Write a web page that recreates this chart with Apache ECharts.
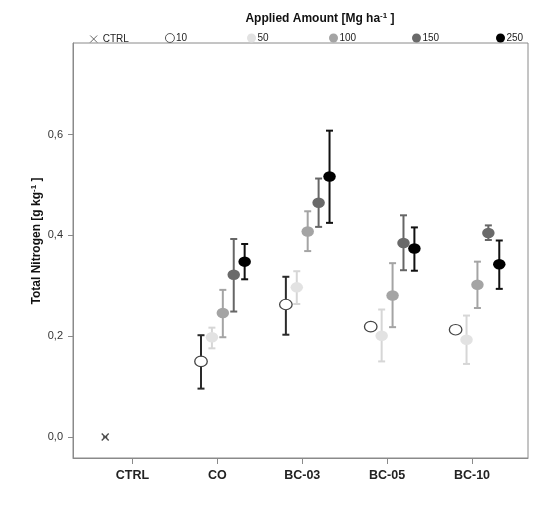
<!DOCTYPE html>
<html>
<head>
<meta charset="utf-8">
<script src="https://cdn.jsdelivr.net/npm/echarts@6/dist/echarts.min.js"></script>
<style>
html,body{margin:0;padding:0;background:#fff;}
#chart{width:550px;height:525px;}
</style>
</head>
<body>
<div id="chart"></div>
<script>
// ---- data ----
const categories = ['CTRL', 'CO', 'BC-03', 'BC-05', 'BC-10'];
const seriesNames = ['CTRL', '10', '50', '100', '150', '250'];
const yTicks = [0, 0.2, 0.4, 0.6];
// CTRL (only in CTRL category)
const ctrlMean = [0];
// treatments across CO, BC-03, BC-05, BC-10
const mean10  = [0.150, 0.263, 0.219, 0.213];
const low10   = [0.096, 0.203, null, null];
const high10  = [0.202, 0.318, null, null];
const mean50  = [0.198, 0.297, 0.201, 0.193];
const low50   = [0.176, 0.264, 0.150, 0.145];
const high50  = [0.217, 0.329, 0.253, 0.241];
const mean100 = [0.246, 0.408, 0.281, 0.302];
const low100  = [0.198, 0.369, 0.218, 0.256];
const high100 = [0.292, 0.448, 0.345, 0.348];
const mean150 = [0.322, 0.465, 0.385, 0.405];
const low150  = [0.249, 0.417, 0.331, 0.391];
const high150 = [0.393, 0.513, 0.440, 0.420];
const mean250 = [0.348, 0.517, 0.374, 0.343];
const low250  = [0.313, 0.425, 0.330, 0.294];
const high250 = [0.383, 0.608, 0.416, 0.390];

// ---- styling / layout ----
const FONT = '"Liberation Sans", Arial, sans-serif';
const SLOT = 0.1286;               // cluster slot width in category units
const fills  = ['#222', '#ffffff', '#e2e2e2', '#a4a4a4', '#6a6a6a', '#000000'];
const barCol = ['#222', '#2a2a2a', '#d6d6d6', '#a4a4a4', '#666666', '#111111'];
const legendLeft = [82.7, 160, 242, 324, 407, 491];

const treat = [
  {name: '10',  m: mean10,  lo: low10,  hi: high10},
  {name: '50',  m: mean50,  lo: low50,  hi: high50},
  {name: '100', m: mean100, lo: low100, hi: high100},
  {name: '150', m: mean150, lo: low150, hi: high150},
  {name: '250', m: mean250, lo: low250, hi: high250}
];
function xPos(catIdx, slotIdx) { return catIdx + (slotIdx - 2.5) * SLOT; }

const crossPath = 'path://M0,0L10,10M10,0L0,10M2,5L8,5';
const crossLegend = 'path://M0,0L10,10M10,0L0,10';

const series = [];
// CTRL marker
series.push({
  name: 'CTRL', type: 'scatter', z: 5,
  symbol: crossPath, symbolSize: 7,
  itemStyle: {color: 'none', borderColor: '#222', borderWidth: 1.4},
  data: ctrlMean.map((v, i) => [xPos(i, 0), v])
});
treat.forEach((t, k) => {
  const s = k + 1;
  // error bars
  const ebData = [];
  t.m.forEach((v, i) => {
    if (t.lo[i] != null && t.hi[i] != null) ebData.push([xPos(i + 1, s), t.lo[i], t.hi[i]]);
  });
  series.push({
    type: 'custom', z: 2, silent: true,
    encode: {x: 0, y: [1, 2]},
    data: ebData,
    renderItem: function (params, api) {
      const p1 = api.coord([api.value(0), api.value(1)]);
      const p2 = api.coord([api.value(0), api.value(2)]);
      const hw = 3.5;
      const st = {stroke: barCol[s], lineWidth: 2};
      return {type: 'group', children: [
        {type: 'line', shape: {x1: p1[0], y1: p1[1], x2: p2[0], y2: p2[1]}, style: st},
        {type: 'line', shape: {x1: p1[0] - hw, y1: p1[1], x2: p1[0] + hw, y2: p1[1]}, style: st},
        {type: 'line', shape: {x1: p2[0] - hw, y1: p2[1], x2: p2[0] + hw, y2: p2[1]}, style: st}
      ]};
    }
  });
  series.push({
    name: t.name, type: 'scatter', z: 5,
    symbol: 'circle', symbolSize: [12.5, 10.5],
    itemStyle: {color: fills[s], borderColor: s === 1 ? '#444' : fills[s], borderWidth: s === 1 ? 1.2 : 0, opacity: 1},
    data: t.m.map((v, i) => [xPos(i + 1, s), v])
  });
});

const legends = seriesNames.map((n, i) => ({
  data: [i === 0
    ? {name: n, icon: crossLegend, itemStyle: {color: 'none', borderColor: '#444', borderWidth: 1}}
    : {name: n, icon: 'circle', itemStyle: {color: fills[i], borderColor: i === 1 ? '#444' : fills[i], borderWidth: i === 1 ? 0.9 : 0}}],
  selectedMode: false,
  left: legendLeft[i], top: 28,
  itemWidth: i === 0 ? 8 : 12, itemHeight: i === 0 ? 7 : 9,
  textStyle: {fontFamily: FONT, fontSize: 10, color: '#222', padding: i === 0 ? 0 : [0, 0, 0, -5]}
}));

const chart = echarts.init(document.getElementById('chart'));
chart.setOption({
  animation: false,
  backgroundColor: '#fff',
  title: {
    text: 'Applied Amount [Mg ha{sup|-1} ]',
    left: 315, top: 7, textAlign: 'center',
    textStyle: {
      fontFamily: FONT, fontSize: 12, fontWeight: 'bold', color: '#111',
      rich: {sup: {fontFamily: FONT, fontSize: 8, fontWeight: 'bold', color: '#111', verticalAlign: 'top', padding: [0, 0, 6, 0]}}
    }
  },
  legend: legends,
  grid: {left: 73, right: 22, top: 43, bottom: 67, show: true, borderColor: '#8a8a8a', borderWidth: 1, containLabel: false},
  xAxis: {
    type: 'value', min: -0.701, max: 4.66,
    splitLine: {show: false},
    axisLine: {show: true, onZero: false, lineStyle: {color: '#8a8a8a', width: 1}},
    axisTick: {show: true, inside: false, length: 6, lineStyle: {color: '#8a8a8a'}, customValues: categories.map((c, i) => i)},
    axisLabel: {
      customValues: categories.map((c, i) => i),
      formatter: v => categories[Math.round(v)],
      fontFamily: FONT, fontSize: 12.5, fontWeight: 'bold', color: '#222', margin: 11
    }
  },
  yAxis: {
    type: 'value', min: -0.0417, max: 0.782,
    name: 'Total Nitrogen [g kg{sup|-1} ]',
    nameLocation: 'middle', nameGap: 29, nameRotate: 90, nameMoveOverlap: false,
    nameTextStyle: {
      fontFamily: FONT, fontSize: 12, fontWeight: 'bold', color: '#111', padding: [0, 0, 0, 19],
      rich: {sup: {fontFamily: FONT, fontSize: 8, fontWeight: 'bold', color: '#111', verticalAlign: 'top', padding: [0, 0, 6, 0]}}
    },
    splitLine: {show: false},
    axisLine: {show: true, onZero: false, lineStyle: {color: '#8a8a8a', width: 1}},
    axisTick: {show: true, inside: false, length: 5, lineStyle: {color: '#8a8a8a'}, customValues: yTicks},
    axisLabel: {
      customValues: yTicks,
      formatter: v => v.toFixed(1).replace('.', ','),
      fontFamily: FONT, fontSize: 11, color: '#333', margin: 10
    }
  },
  series: series
});
</script>
</body>
</html>
